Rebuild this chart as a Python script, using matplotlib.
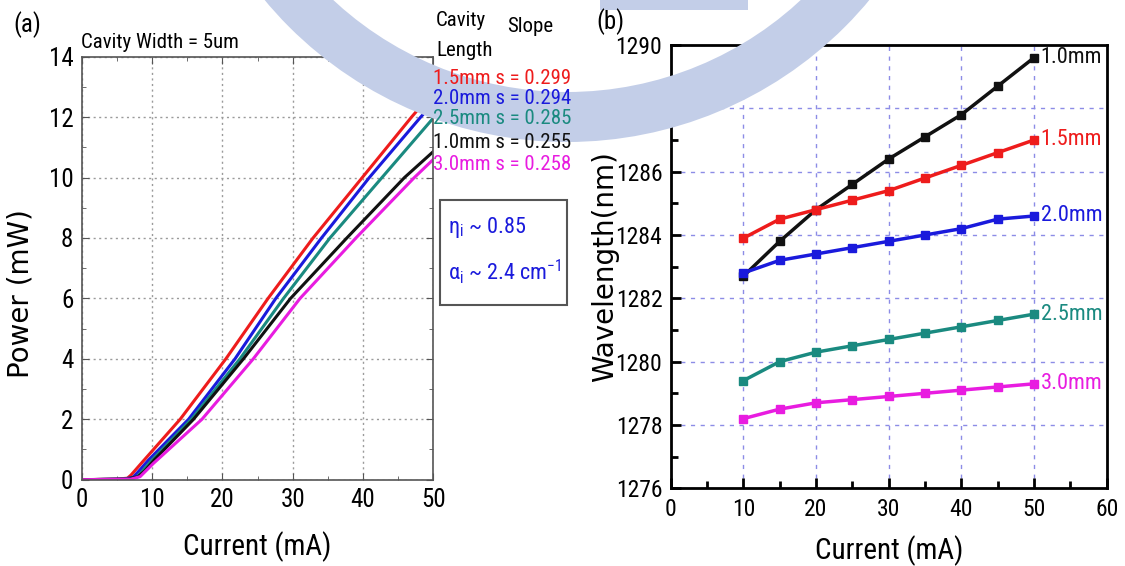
import matplotlib
matplotlib.use("Agg")
import matplotlib.pyplot as plt
import matplotlib.transforms as mtrans
from matplotlib import font_manager
from matplotlib.patches import Rectangle, Wedge
from matplotlib.ticker import MultipleLocator

# ---------------- data: panel (a) L-I curves ----------------
li_labels = ["1.5mm s = 0.299", "2.0mm s = 0.294", "2.5mm s = 0.285",
             "1.0mm s = 0.255", "3.0mm s = 0.258"]
li_colors = ["#ee1c1c", "#1a1adc", "#1a8a80", "#111111", "#e81ce0"]

red_I = [0, 5.0, 6.5, 7.0, 8.5, 14.0, 20.5, 26.5, 32.9, 39.9, 46.9, 50]
red_P = [0, 0.02, 0.05, 0.15, 0.55, 2.0, 4.0, 6.0, 8.0, 10.0, 12.0, 12.84]
blue_I = [0, 6.0, 7.3, 8.0, 9.5, 15.2, 21.8, 27.6, 34.1, 40.9, 48.2, 50]
blue_P = [0, 0.02, 0.08, 0.25, 0.65, 2.0, 4.0, 6.0, 8.0, 10.0, 12.0, 12.46]
teal_I = [0, 6.5, 7.8, 8.5, 10.0, 15.6, 22.5, 28.7, 35.3, 42.7, 50]
teal_P = [0, 0.02, 0.08, 0.25, 0.65, 2.0, 4.0, 6.0, 8.0, 10.0, 11.97]
black_I = [0, 6.5, 8.0, 9.0, 10.3, 15.9, 23.0, 29.7, 37.7, 45.9, 50]
black_P = [0, 0.02, 0.1, 0.3, 0.65, 2.0, 4.0, 6.0, 8.0, 10.0, 10.86]
mag_I = [0, 7.0, 8.3, 10.2, 17.1, 24.4, 31.05, 39.0, 47.3, 50]
mag_P = [0, 0.02, 0.1, 0.54, 2.0, 4.0, 6.0, 8.0, 10.0, 10.6]

li_series = [(red_I, red_P), (blue_I, blue_P), (teal_I, teal_P),
             (black_I, black_P), (mag_I, mag_P)]

# ---------------- data: panel (b) wavelength vs current ----------------
current_b = [10, 15, 20, 25, 30, 35, 40, 45, 50]
wl_10 = [1282.7, 1283.8, 1284.8, 1285.6, 1286.4, 1287.1, 1287.8, 1288.7, 1289.6]
wl_15 = [1283.9, 1284.5, 1284.8, 1285.1, 1285.4, 1285.8, 1286.2, 1286.6, 1287.0]
wl_20 = [1282.8, 1283.2, 1283.4, 1283.6, 1283.8, 1284.0, 1284.2, 1284.5, 1284.6]
wl_25 = [1279.4, 1280.0, 1280.3, 1280.5, 1280.7, 1280.9, 1281.1, 1281.3, 1281.5]
wl_30 = [1278.2, 1278.5, 1278.7, 1278.8, 1278.9, 1279.0, 1279.1, 1279.2, 1279.3]
wl_labels = ["1.0mm", "1.5mm", "2.0mm", "2.5mm", "3.0mm"]
wl_series = [wl_10, wl_15, wl_20, wl_25, wl_30]
wl_colors = ["#111111", "#ee1c1c", "#1a1adc", "#1a8a80", "#e81ce0"]

# ---------------- fonts ----------------
avail = {f.name for f in font_manager.fontManager.ttflist}
narrow = None
for cand in ["Liberation Sans Narrow", "Roboto Condensed", "Open Sans Condensed",
             "DejaVu Sans Condensed", "Liberation Sans"]:
    if cand in avail:
        narrow = cand
        break
if narrow is None:
    narrow = "DejaVu Sans"
plt.rcParams["font.family"] = [narrow, "DejaVu Sans"]
plt.rcParams["mathtext.fontset"] = "custom"
plt.rcParams["mathtext.rm"] = narrow
plt.rcParams["mathtext.it"] = narrow
wide = ["DejaVu Sans"]

W, H = 1125, 566
fig = plt.figure(figsize=(W / 100, H / 100), dpi=100)


def fx(px):
    return px / W


def fy(py):
    return 1 - py / H


# ---------------- watermark (light blue logo fragment) ----------------
wm = "#c3cee8"
ident = mtrans.IdentityTransform()
fig.patches.append(Wedge((567, H + 251), 393, 180, 360, width=50,
                         transform=ident, facecolor=wm, edgecolor="none", zorder=0))
fig.patches.append(Rectangle((600, H - 10), 148, 10, transform=ident,
                             facecolor=wm, edgecolor="none", zorder=0))

# ---------------- panel (a) ----------------
axA = fig.add_axes([fx(81.7), fy(479.7), (433.3 - 81.7) / W, (479.7 - 56.7) / H])
axA.set_facecolor("none")
for (I, P), c in zip(li_series, li_colors):
    axA.plot(I, P, color=c, lw=2.2)
axA.set_xlim(0, 50)
axA.set_ylim(0, 14)
axA.xaxis.set_major_locator(MultipleLocator(10))
axA.xaxis.set_minor_locator(MultipleLocator(5))
axA.yaxis.set_major_locator(MultipleLocator(2))
axA.yaxis.set_minor_locator(MultipleLocator(1))
axA.tick_params(which="both", direction="in", top=True, right=True,
                color="#555555", labelsize=18, pad=6)
axA.tick_params(which="major", length=5)
axA.tick_params(which="minor", length=3)
axA.grid(True, which="major", color="#9a9a9a", ls=(0, (1.5, 2.5)), lw=1)
for s in axA.spines.values():
    s.set_color("#555555")
    s.set_linewidth(1.2)
axA.set_xlabel("Current (mA)", fontsize=21, labelpad=14)
axA.set_ylabel("Power (mW)", fontsize=20, family=wide)
axA.yaxis.set_label_coords((35 - 81.7) / 351.6, 0.44)

fig.text(fx(27), fy(25), "(a)", fontsize=18, ha="center", va="center")
fig.text(fx(160), fy(42), "Cavity Width = 5um", fontsize=15, ha="center", va="center")
fig.text(fx(436), fy(21), "Cavity", fontsize=15, ha="left", va="center")
fig.text(fx(436), fy(51), "Length", fontsize=15, ha="left", va="center")
fig.text(fx(507), fy(27), "Slope", fontsize=15, ha="left", va="center")
leg_y = [78, 98, 118, 143, 164]
for lab, c, yy in zip(li_labels, li_colors, leg_y):
    fig.text(fx(433), fy(yy), lab, fontsize=15, color=c, ha="left", va="center")

fig.patches.append(Rectangle((fx(440), fy(305)), (567 - 440) / W, (305 - 200) / H,
                             transform=fig.transFigure, facecolor="white",
                             edgecolor="#555555", lw=1.5, zorder=1))
fig.text(fx(448), fy(227), r"$\eta_{\rm i}$ ~ 0.85", fontsize=16, color="#1a1adc",
         ha="left", va="center")
fig.text(fx(448), fy(272), r"$\alpha_{\rm i}$ ~ 2.4 cm$^{-1}$", fontsize=16,
         color="#1a1adc", ha="left", va="center")

# ---------------- panel (b) ----------------
axB = fig.add_axes([fx(670.7), fy(488.3), (1106.7 - 670.7) / W, (488.3 - 45) / H])
axB.set_facecolor("none")
for y, c, lab in zip(wl_series, wl_colors, wl_labels):
    axB.plot(current_b, y, color=c, lw=2.5, marker="s", ms=6, mec=c, mfc=c)
    axB.text(current_b[-1] + 0.9, y[-1], lab, color=c, fontsize=16,
             ha="left", va="center")
axB.set_xlim(0, 60)
axB.set_ylim(1276, 1290)
axB.xaxis.set_major_locator(MultipleLocator(10))
axB.xaxis.set_minor_locator(MultipleLocator(5))
axB.yaxis.set_major_locator(MultipleLocator(2))
axB.yaxis.set_minor_locator(MultipleLocator(1))
axB.tick_params(which="both", direction="in", labelsize=17, width=2)
axB.tick_params(axis="x", pad=7)
axB.tick_params(axis="y", pad=6)
axB.tick_params(which="major", length=7)
axB.tick_params(which="minor", length=5)
axB.grid(True, which="major", color="#8c8ce6", ls=(0, (3, 4)), lw=1)
for s in axB.spines.values():
    s.set_color("black")
    s.set_linewidth(2)
axB.set_xlabel("Current (mA)", fontsize=21, labelpad=10)
axB.set_ylabel("Wavelength(nm)", fontsize=20, family=wide)
axB.yaxis.set_label_coords((619 - 670.7) / 436, 0.5)
fig.text(fx(610), fy(22), "(b)", fontsize=18, ha="center", va="center")

fig.savefig("out.png", dpi=100)
